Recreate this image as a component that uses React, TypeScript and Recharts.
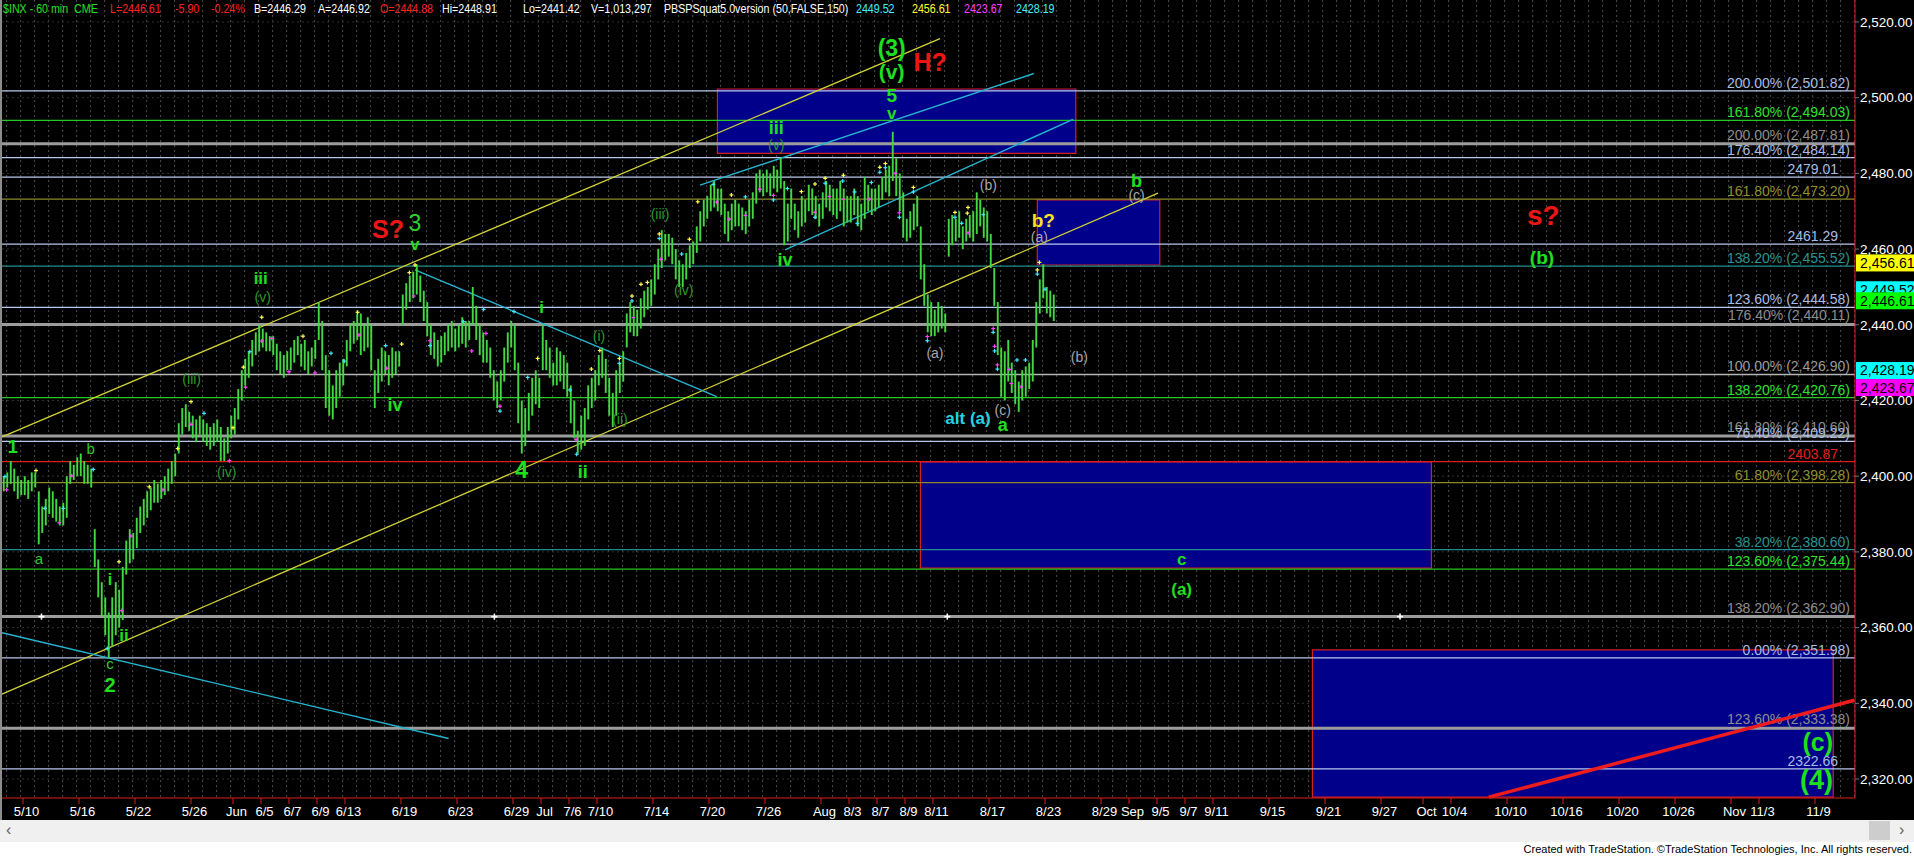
import React from 'react';
import {
  ComposedChart,
  XAxis,
  YAxis,
  CartesianGrid,
  Scatter,
  ErrorBar,
  ReferenceLine,
  ReferenceArea,
} from 'recharts';

// ---------------- data ----------------
// 60-minute bars (4 samples per trading day), trading-day index 0 = 5/10
const BAR_T0 = -1.375;
const BAR_DT = 0.25;
const barHighs = [
  2400, 2401,
  2404, 2402, 2400, 2399, 2400, 2399, 2401, 2401, 2396, 2392, 2394, 2397, 2396, 2394, 2392, 2393,
  2400, 2404, 2403, 2405, 2406, 2404, 2403, 2402, 2386, 2378, 2372, 2368, 2364, 2368, 2372, 2370,
  2376, 2383, 2386, 2385, 2389, 2392, 2394, 2396, 2397, 2399, 2398, 2399, 2400, 2402, 2404, 2406,
  2414, 2418, 2419, 2417, 2416, 2415, 2416, 2415, 2414, 2413, 2414, 2415, 2413, 2410, 2413, 2416,
  2418, 2423, 2428, 2431, 2433, 2436, 2438, 2440, 2439, 2438, 2437, 2437, 2435, 2433, 2432, 2433,
  2434, 2436, 2437, 2435, 2436, 2433, 2434, 2436, 2446, 2441, 2432, 2428, 2424, 2428, 2430, 2431,
  2436, 2440, 2441, 2443, 2443, 2440, 2442, 2440, 2428, 2431, 2434, 2433, 2432, 2434, 2433, 2433,
  2448, 2451, 2453, 2454, 2456, 2453, 2449, 2446, 2440, 2438, 2436, 2437, 2438, 2440, 2441, 2439,
  2440, 2442, 2441, 2441, 2450, 2445, 2440, 2438, 2436, 2434, 2428, 2425, 2428, 2434, 2438, 2441,
  2440, 2430, 2420, 2418, 2422, 2426, 2428, 2426, 2440, 2436, 2434, 2430, 2434, 2433, 2432, 2430,
  2424, 2420, 2412, 2416, 2418, 2424, 2426, 2428, 2432, 2434, 2431, 2426, 2422, 2428, 2430, 2433,
  2443, 2446, 2445, 2444, 2447, 2449, 2450, 2452, 2456, 2460, 2465, 2464, 2464, 2463, 2460, 2457,
  2456, 2459, 2461, 2462, 2466, 2470, 2473, 2474, 2477, 2478, 2476, 2476, 2472, 2470, 2472, 2473,
  2472, 2471, 2470, 2473, 2475, 2480, 2481, 2480, 2481, 2480, 2482, 2481, 2484, 2478, 2472, 2476,
  2472, 2470, 2474, 2473, 2477, 2476, 2474, 2472, 2475, 2478, 2477, 2476, 2476, 2478, 2476, 2474,
  2474, 2476, 2474, 2472, 2479, 2477, 2476, 2476, 2477, 2479, 2481, 2482, 2491, 2484, 2480, 2475,
  2468, 2470, 2472, 2474, 2466, 2456, 2448, 2446, 2444, 2446, 2445, 2443, 2468, 2469, 2468, 2470,
  2466, 2468, 2469, 2470, 2475, 2473, 2471, 2470, 2464, 2455, 2446, 2434, 2433, 2436, 2430, 2428,
  2425, 2428, 2429, 2430, 2436, 2446, 2452, 2456, 2450, 2449, 2448,
];
const barLows = [
  2396, 2397,
  2398, 2396, 2394, 2395, 2395, 2394, 2396, 2397, 2382, 2385, 2387, 2390, 2389, 2388, 2387, 2387,
  2389, 2398, 2399, 2400, 2400, 2398, 2398, 2397, 2376, 2368, 2363, 2358, 2352, 2355, 2358, 2360,
  2362, 2374, 2377, 2378, 2381, 2385, 2387, 2389, 2391, 2393, 2393, 2394, 2395, 2396, 2398, 2400,
  2406, 2411, 2413, 2412, 2410, 2409, 2411, 2409, 2408, 2407, 2408, 2409, 2404, 2404, 2406, 2410,
  2411, 2415, 2420, 2424, 2426, 2429, 2432, 2433, 2434, 2433, 2433, 2432, 2428, 2427, 2426, 2428,
  2428, 2430, 2432, 2429, 2428, 2427, 2429, 2431, 2436, 2428, 2418, 2416, 2415, 2418, 2421, 2424,
  2429, 2433, 2435, 2436, 2432, 2433, 2434, 2428, 2418, 2422, 2425, 2427, 2424, 2426, 2427, 2429,
  2440, 2444, 2446, 2447, 2448, 2446, 2441, 2437, 2432, 2431, 2429, 2430, 2432, 2433, 2434, 2433,
  2434, 2435, 2434, 2436, 2440, 2436, 2432, 2430, 2430, 2426, 2420, 2418, 2420, 2425, 2430, 2434,
  2428, 2414, 2406, 2408, 2412, 2416, 2419, 2418, 2428, 2428, 2426, 2424, 2424, 2425, 2423, 2421,
  2414, 2410, 2406, 2407, 2408, 2415, 2418, 2420, 2424, 2426, 2422, 2416, 2413, 2416, 2422, 2425,
  2434, 2438, 2437, 2437, 2439, 2442, 2444, 2445, 2448, 2452, 2455, 2457, 2458, 2456, 2452, 2450,
  2450, 2452, 2455, 2456, 2459, 2462, 2466, 2468, 2470, 2471, 2470, 2469, 2464, 2462, 2465, 2466,
  2466, 2465, 2464, 2466, 2468, 2472, 2475, 2474, 2475, 2474, 2476, 2475, 2476, 2461, 2462, 2468,
  2465, 2463, 2466, 2467, 2470, 2469, 2468, 2466, 2468, 2471, 2470, 2469, 2468, 2470, 2466, 2467,
  2467, 2469, 2466, 2465, 2468, 2470, 2469, 2470, 2471, 2473, 2475, 2474, 2478, 2474, 2470, 2463,
  2462, 2463, 2465, 2466, 2452, 2445, 2438, 2437, 2437, 2438, 2439, 2438, 2458, 2461, 2462, 2463,
  2460, 2462, 2463, 2462, 2464, 2466, 2463, 2462, 2455, 2445, 2432, 2421, 2420, 2425, 2422, 2419,
  2417, 2420, 2421, 2423, 2425, 2434, 2443, 2447, 2443, 2442, 2441,
];

const xTickDays = [0, 4, 8, 12, 15, 17, 19, 21, 23, 27, 31, 35, 37, 39, 41, 45, 49, 53, 57, 59, 61, 63, 65, 69, 73, 77, 79, 81, 83, 85, 89, 93, 97, 100, 102, 106, 110, 114, 118, 122, 124, 128];
const xTickLabels = ['5/10', '5/16', '5/22', '5/26', 'Jun', '6/5', '6/7', '6/9', '6/13', '6/19', '6/23', '6/29', 'Jul', '7/6', '7/10', '7/14', '7/20', '7/26', 'Aug', '8/3', '8/7', '8/9', '8/11', '8/17', '8/23', '8/29', 'Sep', '9/5', '9/7', '9/11', '9/15', '9/21', '9/27', 'Oct', '10/4', '10/10', '10/16', '10/20', '10/26', 'Nov', '11/3', '11/9'];
const yTicks = [2320, 2340, 2360, 2380, 2400, 2420, 2440, 2460, 2480, 2500, 2520];

const fibLevels = [2501.82, 2494.03, 2487.81, 2484.14, 2479.01, 2473.2, 2461.29, 2455.52, 2444.58, 2440.11, 2426.9, 2420.76, 2410.6, 2409.22, 2403.87, 2398.28, 2380.6, 2375.44, 2362.9, 2351.98, 2333.38, 2322.66];
const fibPercents = ['200.00%', '161.80%', '200.00%', '176.40%', '', '161.80%', '', '138.20%', '123.60%', '176.40%', '100.00%', '138.20%', '161.80%', '76.40%', '', '61.80%', '38.20%', '123.60%', '138.20%', '0.00%', '123.60%', ''];
const fibKinds = ['blue', 'green', 'grayThick', 'blue', 'blue', 'olive', 'blue', 'teal', 'blue', 'grayThick', 'gray', 'green', 'grayThick', 'blue', 'red', 'olive', 'teal', 'green', 'grayThick', 'blue', 'grayThick', 'blue'];

const lastValues = [2456.61, 2449.52, 2446.61, 2428.19, 2423.67];
const lastValueKinds = ['yellow', 'cyan', 'green', 'cyan', 'magenta'];

// header line of the chart window
const headerTexts = ['$INX - 60 min  CME', 'L=2446.61', '-5.90', '-0.24%', 'B=2446.29', 'A=2446.92', 'O=2444.88', 'Hi=2448.91', 'Lo=2441.42', 'V=1,013,297', 'PBSPSquat5.0version (50,FALSE,150)', '2449.52', '2456.61', '2423.67', '2428.19'];
const headerKinds = ['green', 'red', 'red', 'red', 'white', 'white', 'red', 'white', 'white', 'white', 'white', 'cyan', 'yellow', 'magenta', 'cyan'];

// target boxes (trading-day index, price)
const boxes = [
  { x1: 49.6, x2: 75.2, y1: 2485.3, y2: 2502.3 },
  { x1: 72.45, x2: 81.2, y1: 2455.8, y2: 2473.0 },
  { x1: 64.1, x2: 100.6, y1: 2375.7, y2: 2403.8 },
  { x1: 92.1, x2: 129.3, y1: 2315.2, y2: 2354.1 },
];

// trend lines [t1, p1, t2, p2]
const yellowLines = [
  [-1.5, 2410.4, 65.5, 2515.6],
  [-1.5, 2342.4, 81.07, 2474.8],
];
const cyanLines = [
  [-1.5, 2358.65, 30.4, 2330.7],
  [28.0, 2454.5, 49.55, 2421.0],
  [48.36, 2476.9, 72.2, 2506.4],
  [54.43, 2459.8, 75.0, 2494.3],
];
const redLines = [[104.7, 2315.2, 130.8, 2340.8]];

const fibAnchorTimes = [1.32, 33.67, 66.02, 98.36];
const fibAnchorPrice = 2362.9;

// wave labels
const waveLabels = [
  { text: '(3)', t: 62.05, p: 2513.0, kind: 'g22' },
  { text: '(v)', t: 62.05, p: 2506.9, kind: 'g20' },
  { text: 'H?', t: 64.8, p: 2509.5, kind: 'r24' },
  { text: '5', t: 62.05, p: 2500.7, kind: 'g18' },
  { text: 'v', t: 62.05, p: 2495.9, kind: 'g16' },
  { text: 'iii', t: 53.8, p: 2491.9, kind: 'g17' },
  { text: '(v)', t: 53.8, p: 2487.5, kind: 'dim' },
  { text: '(iii)', t: 45.5, p: 2469.2, kind: 'dim' },
  { text: '(iv)', t: 47.2, p: 2449.2, kind: 'dim' },
  { text: 'iv', t: 54.43, p: 2457.1, kind: 'g17' },
  { text: '(b)', t: 68.95, p: 2476.9, kind: 'gray' },
  { text: '(a)', t: 65.14, p: 2432.5, kind: 'gray' },
  { text: 'b?', t: 72.88, p: 2467.5, kind: 'y18' },
  { text: '(a)', t: 72.6, p: 2463.3, kind: 'gray' },
  { text: '(b)', t: 75.45, p: 2431.5, kind: 'gray' },
  { text: '(c)', t: 69.98, p: 2417.5, kind: 'gray' },
  { text: 'alt (a)', t: 67.5, p: 2415.3, kind: 'c16' },
  { text: 'a', t: 69.98, p: 2413.5, kind: 'g17' },
  { text: 'b', t: 79.54, p: 2478.0, kind: 'g17' },
  { text: '(c)', t: 79.54, p: 2474.3, kind: 'gray' },
  { text: 's?', t: 108.6, p: 2468.9, kind: 'r26' },
  { text: '(b)', t: 108.5, p: 2457.8, kind: 'g18' },
  { text: 'c', t: 82.76, p: 2378.1, kind: 'g16' },
  { text: '(a)', t: 82.76, p: 2370.0, kind: 'g16' },
  { text: '(c)', t: 128.2, p: 2329.9, kind: 'g24' },
  { text: '(4)', t: 128.1, p: 2319.7, kind: 'g26' },
  { text: 'S?', t: 26.07, p: 2465.2, kind: 'r24' },
  { text: '3', t: 28.0, p: 2466.9, kind: 'g20n' },
  { text: 'v', t: 28.0, p: 2461.3, kind: 'g15' },
  { text: 'iii', t: 16.98, p: 2452.3, kind: 'g16' },
  { text: '(v)', t: 17.12, p: 2447.4, kind: 'dim' },
  { text: '(iii)', t: 12.05, p: 2425.6, kind: 'dim' },
  { text: '(iv)', t: 14.55, p: 2401.2, kind: 'dim' },
  { text: 'iv', t: 26.57, p: 2418.8, kind: 'g17' },
  { text: '1', t: -0.74, p: 2407.8, kind: 'g17' },
  { text: 'b', t: 4.84, p: 2407.4, kind: 'g14n' },
  { text: 'a', t: 1.14, p: 2378.3, kind: 'g14n' },
  { text: 'i', t: 6.21, p: 2372.6, kind: 'g15' },
  { text: 'ii', t: 7.21, p: 2358.0, kind: 'g16' },
  { text: 'c', t: 6.21, p: 2350.5, kind: 'g14n' },
  { text: '2', t: 6.21, p: 2344.8, kind: 'g19' },
  { text: 'i', t: 37.05, p: 2444.7, kind: 'g16' },
  { text: '(i)', t: 41.14, p: 2437.1, kind: 'dim' },
  { text: '(ii)', t: 42.64, p: 2415.0, kind: 'dim' },
  { text: '4', t: 35.62, p: 2401.6, kind: 'g22' },
  { text: 'ii', t: 39.98, p: 2401.1, kind: 'g17' },
];

// indicator "+" marks [t, price, colour]
const squatMarks: [number, number, string][] = [
  [-1.29, 2399.9, 'c'], [-1.17, 2396.4, 'm'], [0.93, 2401.5, 'y'], [1.57, 2391.5, 'c'], [2.6, 2387.7, 'm'], [2.88, 2391.5, 'c'],
  [3.48, 2400.1, 'm'], [5.02, 2401.8, 'c'], [6.02, 2354.5, 'c'], [6.86, 2377.4, 'y'], [7.05, 2364.5, 'm'], [7.71, 2384.2, 'm'],
  [9.02, 2397.2, 'y'], [10.0, 2396.4, 'm'], [11.05, 2407.3, 'y'], [12.0, 2419.7, 'y'], [12.0, 2413.7, 'm'], [12.93, 2416.6, 'c'],
  [14.74, 2404.1, 'm'], [15.0, 2412.8, 'y'], [15.74, 2428.8, 'y'], [15.9, 2423.5, 'm'], [16.2, 2432.9, 'c'], [17.05, 2442.0, 'y'],
  [17.05, 2435.7, 'm'], [17.76, 2436.4, 'm'], [19.0, 2427.6, 'm'], [20.0, 2437.0, 'y'], [20.86, 2427.3, 'm'], [22.0, 2432.5, 'c'],
  [22.95, 2430.4, 'c'], [23.9, 2443.3, 'y'], [24.0, 2437.3, 'm'], [25.9, 2434.5, 'c'], [25.98, 2428.5, 'm'], [27.05, 2434.9, 'y'],
  [27.6, 2453.8, 'y'], [27.9, 2447.6, 'm'], [28.0, 2455.8, 'y'], [29.07, 2435.8, 'm'], [29.07, 2434.5, 'c'], [31.45, 2440.8, 'c'],
  [32.05, 2433.1, 'm'], [32.9, 2444.1, 'c'], [33.07, 2437.7, 'm'], [34.07, 2418.5, 'm'], [34.07, 2417.2, 'c'], [35.07, 2443.5, 'c'],
  [36.05, 2426.1, 'c'], [36.76, 2431.1, 'y'], [39.07, 2422.8, 'c'], [39.5, 2409.7, 'm'], [39.55, 2405.8, 'c'], [40.6, 2428.3, 'y'],
  [41.2, 2433.2, 'y'], [42.6, 2431.1, 'y'], [42.6, 2429.8, 'c'], [43.5, 2447.6, 'y'], [43.5, 2446.3, 'c'], [43.6, 2441.9, 'm'],
  [44.14, 2450.7, 'y'], [44.6, 2451.2, 'y'], [45.45, 2464.0, 'y'], [45.45, 2462.8, 'c'], [45.57, 2457.3, 'm'], [47.05, 2458.7, 'c'],
  [47.6, 2462.6, 'y'], [48.2, 2472.5, 'y'], [49.3, 2477.1, 'c'], [49.55, 2472.4, 'm'], [50.6, 2474.3, 'y'], [50.45, 2467.9, 'm'],
  [51.6, 2473.8, 'c'], [51.6, 2468.9, 'm'], [52.64, 2475.8, 'm'], [53.6, 2474.2, 'm'], [53.6, 2473.0, 'c'], [54.6, 2476.0, 'c'],
  [55.6, 2475.2, 'y'], [56.57, 2477.2, 'y'], [56.57, 2469.7, 'm'], [56.57, 2468.4, 'c'], [57.3, 2478.7, 'y'], [57.3, 2477.4, 'c'],
  [57.6, 2473.9, 'm'], [58.6, 2479.5, 'y'], [58.55, 2478.0, 'c'], [58.6, 2473.2, 'm'], [59.4, 2475.1, 'c'], [59.6, 2466.8, 'c'],
  [60.45, 2473.2, 'm'], [60.6, 2477.6, 'c'], [61.2, 2481.6, 'y'], [61.2, 2480.3, 'c'], [61.6, 2482.6, 'y'], [61.6, 2481.5, 'c'],
  [62.3, 2480.0, 'm'], [62.6, 2469.6, 'm'], [62.6, 2468.4, 'c'], [63.6, 2476.3, 'y'], [63.6, 2475.1, 'c'], [64.6, 2436.9, 'm'],
  [64.6, 2435.8, 'c'], [66.57, 2469.7, 'y'], [66.57, 2468.4, 'c'], [67.05, 2466.8, 'c'], [67.45, 2469.5, 'y'], [67.5, 2471.0, 'y'],
  [67.5, 2464.3, 'm'], [68.6, 2469.1, 'c'], [69.3, 2439.0, 'm'], [69.3, 2438.0, 'c'], [69.4, 2434.3, 'm'], [69.4, 2433.1, 'c'],
  [69.6, 2429.4, 'm'], [69.6, 2428.3, 'c'], [70.45, 2428.2, 'm'], [70.6, 2424.5, 'm'], [71.0, 2430.7, 'c'], [71.3, 2423.6, 'm'],
  [71.6, 2430.7, 'c'], [72.45, 2454.5, 'y'], [72.45, 2453.4, 'c'], [72.6, 2456.5, 'y'], [73.0, 2449.4, 'c'],
];

// ---------------- styles ----------------
const FONT = '"Liberation Sans", Arial, sans-serif';
const X_DOMAIN: [number, number] = [-1.5, 130.857];
const Y_DOMAIN: [number, number] = [2314.98, 2525.81];
const HEADER_LEFT = [3, 110, 175, 211, 254, 318, 380, 442, 523, 591, 664, 856, 912, 964, 1016];

const fibStyle: Record<string, { line: string; text: string; width: number }> = {
  blue: { line: '#b8c8ea', text: '#a9bde3', width: 1.2 },
  green: { line: '#25c825', text: '#2fe02f', width: 1.2 },
  grayThick: { line: '#9c9c9c', text: '#8e8e8e', width: 3 },
  gray: { line: '#b4b4b4', text: '#9c9c9c', width: 1.5 },
  olive: { line: '#8a8a2c', text: '#8f8f2e', width: 1.2 },
  teal: { line: '#238c8c', text: '#2a9393', width: 1.2 },
  red: { line: '#e01c1c', text: '#e81c1c', width: 1.2 },
};
const valueColors: Record<string, string> = {
  yellow: '#ffff00',
  cyan: '#00ffff',
  green: '#00ff00',
  magenta: '#ff00ff',
};
const headerColors: Record<string, string> = {
  green: '#22e022',
  red: '#ff2020',
  white: '#ffffff',
  cyan: '#40f0ff',
  yellow: '#ffff30',
  magenta: '#ff40ff',
};
const markColors: Record<string, string> = { y: '#ffff50', c: '#40e8ff', m: '#ff40ff' };
const G = '#1ee01e';
const waveStyles: Record<string, { color: string; size: number; weight: number }> = {
  g26: { color: G, size: 27, weight: 700 },
  g24: { color: G, size: 25, weight: 700 },
  g22: { color: G, size: 23, weight: 700 },
  g20: { color: G, size: 21, weight: 700 },
  g20n: { color: '#2ed02e', size: 23, weight: 400 },
  g19: { color: G, size: 20, weight: 700 },
  g18: { color: G, size: 19, weight: 700 },
  g17: { color: G, size: 18, weight: 700 },
  g16: { color: G, size: 17, weight: 700 },
  g15: { color: G, size: 16, weight: 700 },
  g14n: { color: '#2ec82e', size: 15, weight: 400 },
  dim: { color: '#2a9a2a', size: 14, weight: 400 },
  gray: { color: '#a8a8a8', size: 14, weight: 400 },
  r24: { color: '#ee1515', size: 25, weight: 700 },
  r26: { color: '#ee1515', size: 28, weight: 700 },
  y18: { color: '#ffe020', size: 19, weight: 700 },
  c16: { color: '#22d4e4', size: 17, weight: 700 },
};

const fmt2 = (v: number) =>
  v.toLocaleString('en-US', { minimumFractionDigits: 2, maximumFractionDigits: 2 });

// ---------------- derived tables ----------------
const barData = barHighs.map((h, i) => {
  const l = barLows[i];
  const half = (h - l) / 2;
  return { t: BAR_T0 + i * BAR_DT, p: l + half, err: [half, half] };
});
const labelData = waveLabels.map((w) => ({ ...w }));
const markData = squatMarks.map(([t, p, k]) => ({ t, p, k }));
const anchorData = fibAnchorTimes.map((t) => ({ t, p: fibAnchorPrice }));
const gridDays = Array.from({ length: 133 }, (_, i) => i - 1.17);

const WaveText = (props: any) => {
  const { cx, cy, payload } = props;
  const st = waveStyles[payload.kind];
  return (
    <text
      x={cx}
      y={cy}
      fill={st.color}
      fontSize={st.size}
      fontWeight={st.weight}
      fontFamily={FONT}
      textAnchor="middle"
      dominantBaseline="central"
    >
      {payload.text}
    </text>
  );
};

const PlusMark = (props: any) => {
  const { cx, cy, payload } = props;
  const c = markColors[payload.k];
  return (
    <g stroke={c} strokeWidth={1.2}>
      <line x1={cx - 2} x2={cx + 2} y1={cy} y2={cy} />
      <line x1={cx} x2={cx} y1={cy - 2} y2={cy + 2} />
    </g>
  );
};

const AnchorMark = (props: any) => {
  const { cx, cy } = props;
  return (
    <g stroke="#ffffff" strokeWidth={1.6}>
      <line x1={cx - 3} x2={cx + 3} y1={cy} y2={cy} />
      <line x1={cx} x2={cx} y1={cy - 3} y2={cy + 3} />
    </g>
  );
};

const XTick = (props: any) => {
  const { x, y, payload } = props;
  const i = xTickDays.indexOf(payload.value);
  return (
    <text x={x + 3.5} y={y + 11} fill="#ffffff" fontSize={13} fontFamily={FONT} textAnchor="middle">
      {i >= 0 ? xTickLabels[i] : ''}
    </text>
  );
};

const Empty = () => <g />;

export default function App() {
  return (
    <div
      style={{
        position: 'absolute',
        left: 0,
        top: 0,
        width: 1914,
        height: 856,
        background: '#000',
        overflow: 'hidden',
        fontFamily: FONT,
      }}
    >
      <div style={{ position: 'absolute', left: 0, top: 0 }}>
        <ComposedChart width={1914} height={820} margin={{ top: 0, right: 0, bottom: 0, left: 2 }}>
          <CartesianGrid
            horizontal={false}
            stroke="#4e4e4e"
            strokeDasharray="2 3"
            verticalValues={gridDays}
          />
          <CartesianGrid
            vertical={false}
            stroke="#303030"
            strokeDasharray="2 3"
            horizontalValues={yTicks}
          />
          <XAxis
            dataKey="t"
            type="number"
            domain={X_DOMAIN}
            allowDataOverflow
            ticks={xTickDays}
            interval={0}
            height={22}
            tickSize={6}
            tickMargin={1}
            axisLine={{ stroke: '#e01a1a' }}
            tickLine={{ stroke: '#e01a1a' }}
            tick={XTick}
          />
          <YAxis
            type="number"
            orientation="right"
            domain={Y_DOMAIN}
            allowDataOverflow
            ticks={yTicks}
            width={59}
            tickSize={4}
            tickMargin={1}
            axisLine={{ stroke: '#e01a1a' }}
            tickLine={{ stroke: '#777' }}
            tick={{ fill: '#ffffff', fontSize: 13.5 }}
            tickFormatter={(v: number) => fmt2(v)}
          />

          {boxes.map((b, i) => (
            <ReferenceArea
              key={'box' + i}
              x1={b.x1}
              x2={b.x2}
              y1={b.y1}
              y2={b.y2}
              fill="#00008a"
              fillOpacity={1}
              stroke="#d42020"
              strokeWidth={1.2}
            />
          ))}

          {fibLevels.map((v, i) => {
            const st = fibStyle[fibKinds[i]];
            const pct = fibPercents[i];
            const txt = pct ? `${pct} (${fmt2(v)})` : v.toFixed(2);
            return (
              <ReferenceLine
                key={'fib' + i}
                y={v}
                stroke={st.line}
                strokeWidth={st.width}
                label={(p: any) => {
                  const vb = p.viewBox || {};
                  return (
                    <text
                      x={vb.x + vb.width - (pct ? 5 : 17)}
                      y={vb.y - 3 - (st.width > 2 ? 1 : 0)}
                      fill={st.text}
                      fontSize={14}
                      fontFamily={FONT}
                      textAnchor="end"
                    >
                      {txt}
                    </text>
                  );
                }}
              />
            );
          })}

          {yellowLines.map((s, i) => (
            <ReferenceLine
              key={'yl' + i}
              segment={[{ x: s[0], y: s[1] }, { x: s[2], y: s[3] }]}
              stroke="#d2d236"
              strokeWidth={1.3}
            />
          ))}
          {cyanLines.map((s, i) => (
            <ReferenceLine
              key={'cl' + i}
              segment={[{ x: s[0], y: s[1] }, { x: s[2], y: s[3] }]}
              stroke="#26b4d0"
              strokeWidth={1.4}
            />
          ))}
          {redLines.map((s, i) => (
            <ReferenceLine
              key={'rl' + i}
              segment={[{ x: s[0], y: s[1] }, { x: s[2], y: s[3] }]}
              stroke="#ee1c1c"
              strokeWidth={3.5}
            />
          ))}

          {lastValues.map((v, i) => (
            <ReferenceLine
              key={'lv' + i}
              y={v}
              stroke="none"
              label={(p: any) => {
                const vb = p.viewBox || {};
                const x = vb.x + vb.width + 1;
                const y = vb.y + 1;
                return (
                  <g>
                    <rect x={x} y={y - 8.5} width={60} height={17} fill={valueColors[lastValueKinds[i]]} />
                    <text x={x + 4} y={y + 5} fill="#000" fontSize={14} fontFamily={FONT}>
                      {fmt2(v)}
                    </text>
                  </g>
                );
              }}
            />
          ))}

          <Scatter data={barData} dataKey="p" shape={Empty} isAnimationActive={false}>
            <ErrorBar
              dataKey="err"
              direction="y"
              width={0}
              stroke="#42d842"
              strokeWidth={1.9}
              isAnimationActive={false}
            />
          </Scatter>
          <Scatter data={markData} dataKey="p" shape={PlusMark} isAnimationActive={false} />
          <Scatter data={anchorData} dataKey="p" shape={AnchorMark} isAnimationActive={false} />
          <Scatter data={labelData} dataKey="p" shape={WaveText} isAnimationActive={false} />
        </ComposedChart>
      </div>

      {/* header */}
      <div
        style={{
          position: 'absolute',
          left: 0,
          top: 1,
          height: 16,
          fontSize: 13,
          lineHeight: '16px',
          whiteSpace: 'pre',
          fontFamily: FONT,
        }}
      >
        {headerTexts.map((s, i) => (
          <span
            key={'h' + i}
            style={{
              position: 'absolute',
              left: HEADER_LEFT[i],
              color: headerColors[headerKinds[i]],
              display: 'inline-block',
              transform: 'scaleX(0.82)',
              transformOrigin: '0 0',
            }}
          >
            {s}
          </span>
        ))}
      </div>

      {/* left border */}
      <div style={{ position: 'absolute', left: 0, top: 0, width: 2, height: 820, background: '#8c8c8c' }} />

      {/* scrollbar */}
      <div style={{ position: 'absolute', left: 0, top: 820, width: 1914, height: 22, background: '#f0f0f0' }}>
        <span style={{ position: 'absolute', left: 6, top: 1, fontSize: 16, color: '#606060' }}>‹</span>
        <div style={{ position: 'absolute', left: 1869, top: 1, width: 21, height: 19, background: '#cdcdcd' }} />
        <span style={{ position: 'absolute', left: 1899, top: 1, fontSize: 16, color: '#606060' }}>›</span>
      </div>

      {/* footer */}
      <div
        style={{
          position: 'absolute',
          left: 0,
          top: 842,
          width: 1914,
          height: 14,
          background: '#fff',
        }}
      >
        <span
          style={{
            position: 'absolute',
            right: 2,
            top: 0,
            fontSize: 11,
            lineHeight: '14px',
            color: '#000',
            fontFamily: FONT,
            whiteSpace: 'pre',
          }}
        >
          Created with TradeStation. ©TradeStation Technologies, Inc. All rights reserved.
        </span>
      </div>
    </div>
  );
}
